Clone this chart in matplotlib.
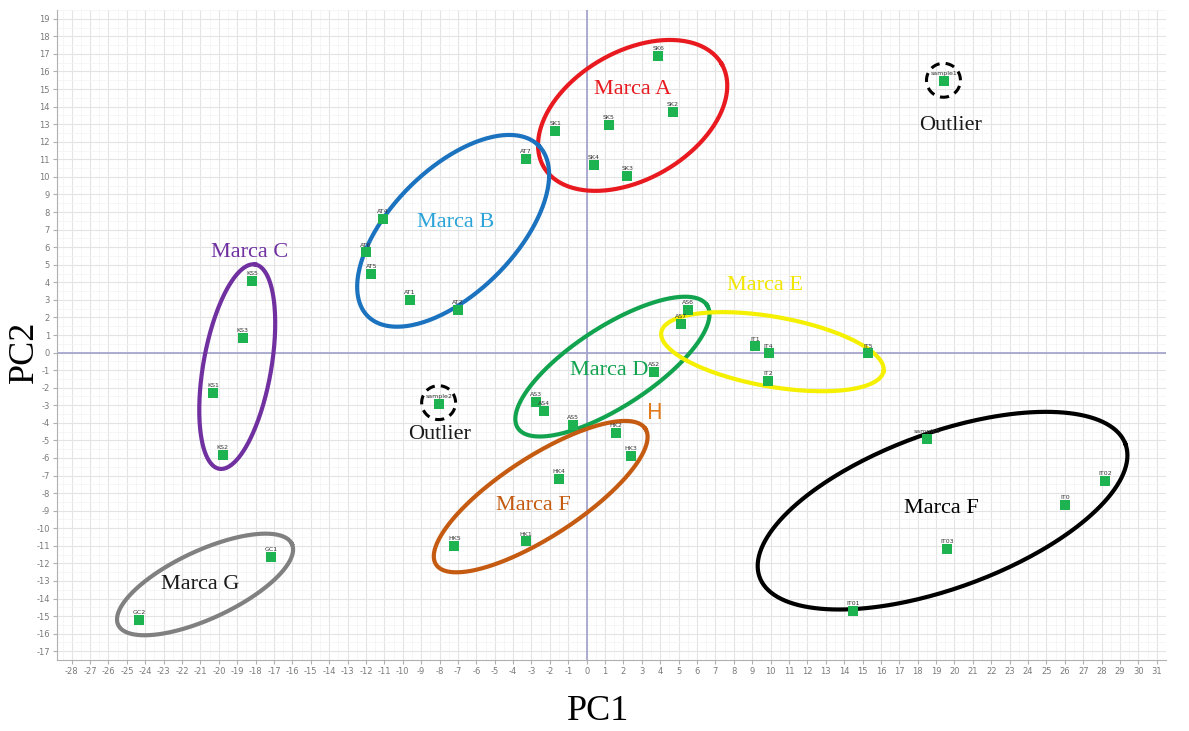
import numpy as np
import matplotlib
matplotlib.use("Agg")
import matplotlib.pyplot as plt

plt.rcParams["axes.unicode_minus"] = False

# PCA scores
names_a = ["SK6", "SK2", "SK5", "SK1", "SK4", "SK3"]
pc1_a = [3.9, 4.7, 1.2, -1.7, 0.4, 2.2]
pc2_a = [16.9, 13.7, 12.95, 12.6, 10.7, 10.05]

names_b = ["AT7", "AT4", "AT6", "AT5", "AT1", "AT2"]
pc1_b = [-3.3, -11.1, -12.0, -11.7, -9.6, -7.0]
pc2_b = [11.0, 7.6, 5.7, 4.5, 3.0, 2.45]

names_c = ["KS5", "KS3", "KS1", "KS2"]
pc1_c = [-18.2, -18.7, -20.3, -19.8]
pc2_c = [4.1, 0.85, -2.3, -5.85]

names_d = ["AS6", "AS7", "AS2", "AS3", "AS4", "AS5"]
pc1_d = [5.5, 5.15, 3.65, -2.75, -2.3, -0.75]
pc2_d = [2.4, 1.65, -1.1, -2.8, -3.3, -4.1]

names_e = ["IT1", "IT4", "IT2", "IT5"]
pc1_e = [9.15, 9.9, 9.85, 15.3]
pc2_e = [0.35, -0.05, -1.6, -0.05]

names_h = ["HK2", "HK3", "HK4", "HK5", "HK1"]
pc1_h = [1.6, 2.4, -1.5, -7.2, -3.3]
pc2_h = [-4.6, -5.9, -7.2, -11.0, -10.75]

names_f = ["sample5", "IT02", "IT0", "IT03", "IT01"]
pc1_f = [18.5, 28.2, 26.0, 19.6, 14.5]
pc2_f = [-4.9, -7.3, -8.7, -11.2, -14.7]

names_g = ["GC1", "GC2"]
pc1_g = [-17.15, -24.35]
pc2_g = [-11.65, -15.2]

names_out = ["sample1", "sample2"]
pc1_out = [19.45, -8.05]
pc2_out = [15.45, -2.9]

groups = [
    (names_a, pc1_a, pc2_a), (names_b, pc1_b, pc2_b), (names_c, pc1_c, pc2_c),
    (names_d, pc1_d, pc2_d), (names_e, pc1_e, pc2_e), (names_h, pc1_h, pc2_h),
    (names_f, pc1_f, pc2_f), (names_g, pc1_g, pc2_g), (names_out, pc1_out, pc2_out),
]

# layout
W, H = 1189, 731
XLIM = (-28.8, 31.4)
YLIM = (-17.5, 19.4)
AX_RECT = [57 / W, 71 / H, 1109 / W, 650 / H]
SX = AX_RECT[2] * W / (XLIM[1] - XLIM[0])   # px per unit
SY = AX_RECT[3] * H / (YLIM[1] - YLIM[0])

fig = plt.figure(figsize=(W / 100, H / 100), dpi=100)
ax = fig.add_axes(AX_RECT)
ax.set_xlim(*XLIM)
ax.set_ylim(*YLIM)

ax.set_xticks(np.arange(-28, 32, 1))
ax.set_yticks(np.arange(-17, 20, 1))
ax.set_xticks(np.arange(-28.5, 32, 1), minor=True)
ax.set_yticks(np.arange(-17.5, 20, 1), minor=True)
ax.grid(True, which="major", color="#e4e4e4", lw=0.8)
ax.grid(True, which="minor", color="#f3f3f3", lw=0.5)
ax.set_axisbelow(True)
ax.tick_params(which="major", labelsize=6, labelcolor="#7a7a7a", color="#b0b0b0", length=3, pad=2)
ax.tick_params(which="minor", length=0)
for s in ["top", "right"]:
    ax.spines[s].set_visible(False)
for s in ["left", "bottom"]:
    ax.spines[s].set_color("#b0b0b0")

ax.axhline(0, color="#a0a0cc", lw=1.2, zorder=1)
ax.axvline(0, color="#a0a0cc", lw=1.2, zorder=1)

for nm, xs, ys in groups:
    ax.scatter(xs, ys, marker="s", s=55, color="#1db350", zorder=4, linewidths=0)
    for n, x, y in zip(nm, xs, ys):
        ax.text(x, y + 0.28, n, fontsize=4.5, color="#333333", ha="center", va="bottom", zorder=5)


def ellipse(cx, cy, a, b, ang, **kw):
    # a, b are semi axes in pixels, ang in degrees on screen
    t = np.linspace(0, 2 * np.pi, 300)
    th = np.radians(ang)
    x = cx + (a * np.cos(t) * np.cos(th) - b * np.sin(t) * np.sin(th)) / SX
    y = cy + (a * np.cos(t) * np.sin(th) + b * np.sin(t) * np.cos(th)) / SY
    ax.plot(x, y, zorder=3, **kw)


ellipse(2.5, 13.5, 103, 64, 30, color="#e8191f", lw=3)
ellipse(-7.26, 6.93, 121, 62, 45, color="#1b72bf", lw=3)
ellipse(-19.0, -0.8, 104, 34, 80, color="#7030a0", lw=3)
ellipse(1.4, -0.8, 113, 40, 33, color="#12a34f", lw=3)
ellipse(10.1, 0.05, 113, 35, -10, color="#f5f000", lw=3)
ellipse(-2.5, -8.2, 125, 40, 33, color="#c55a11", lw=3)
ellipse(19.35, -9.0, 195, 78, 20, color="black", lw=3)
ellipse(-20.75, -13.2, 96, 34, 25, color="#808080", lw=3)
ellipse(19.4, 15.5, 17, 17, 0, color="black", lw=2.2, ls=(0, (3, 2)))
ellipse(-8.05, -2.85, 17, 17, 0, color="black", lw=2.2, ls=(0, (3, 2)))

serif = "Liberation Serif"
lab = dict(fontsize=16, family=serif, ha="center", va="center", zorder=6)
ax.text(2.5, 15.0, "Marca A", color="#e8191f", **lab)
ax.text(-7.1, 7.4, "Marca B", color="#2aa3d8", **lab)
ax.text(-18.3, 5.7, "Marca C", color="#7030a0", **lab)
ax.text(1.25, -1.0, "Marca D", color="#12a34f", **lab)
ax.text(9.7, 3.8, "Marca E", color="#f2e600", **lab)
ax.text(-2.9, -8.7, "Marca F", color="#c55a11", **lab)
ax.text(19.3, -8.85, "Marca F", color="black", **lab)
ax.text(-21.0, -13.2, "Marca G", color="#1a1a1a", **lab)
ax.text(19.8, 12.9, "Outlier", color="#1a1a1a", **lab)
ax.text(-8.0, -4.65, "Outlier", color="#1a1a1a", **lab)
ax.text(3.7, -3.45, "H", fontsize=15, color="#e07a1a", ha="center", va="center", zorder=6)

fig.text(598 / W, 1 - 712 / H, "PC1", fontsize=26, family=serif, ha="center", va="center")
fig.text(24 / W, 1 - 352 / H, "PC2", fontsize=26, family=serif, ha="center", va="center", rotation=90)

fig.savefig("out.png", dpi=100)
